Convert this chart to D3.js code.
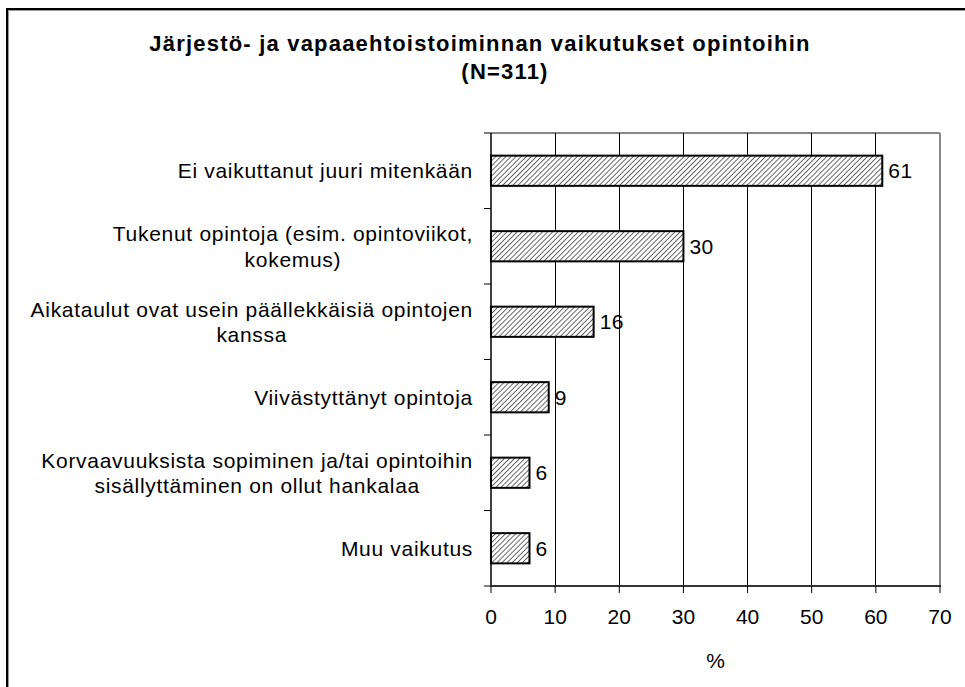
<!DOCTYPE html>
<html>
<head>
<meta charset="utf-8">
<title>vaikutukset</title>
<style>
  body { margin: 0; background: #fff; }
  text { font-family: "Liberation Sans", Arial, sans-serif; fill: #000; }
</style>
</head>
<body>
<script src="https://cdn.jsdelivr.net/npm/d3@7"></script>
<svg width="965" height="687" id="mainsvg"></svg>
<script>
// data
const categories = [
    "Ei vaikuttanut juuri mitenkään",
    "Tukenut opintoja (esim. opintoviikot,\nkokemus)",
    "Aikataulut ovat usein päällekkäisiä opintojen\nkanssa",
    "Viivästyttänyt opintoja",
    "Korvaavuuksista sopiminen ja/tai opintoihin\nsisällyttäminen on ollut hankalaa",
    "Muu vaikutus"
];
const values = [61, 30, 16, 9, 6, 6];
const xTicks = [0, 10, 20, 30, 40, 50, 60, 70];
const titleLines = ["Järjestö- ja vapaaehtoistoiminnan vaikutukset opintoihin", "(N=311)"];
const axisTitle = "%";

const svg = d3.select('#mainsvg');
const pLeft = 491, pRight = 940, pTop = 133, pBottom = 586;
const fs = 21;

// outer frame (runs off the right/bottom edge like the original)
svg.append("rect").attr("x", 7).attr("y", 9).attr("width", 1000).attr("height", 1000)
    .attr("fill", "none").attr("stroke", "#000").attr("stroke-width", 2);
svg.append("rect").attr("x", 8.5).attr("y", 10.5).attr("width", 1000).attr("height", 1000)
    .attr("fill", "none").attr("stroke", "#999").attr("stroke-width", 1);

// hatch
const defs = svg.append("defs");
const pat = defs.append("pattern").attr("id", "hatch")
    .attr("patternUnits", "userSpaceOnUse").attr("width", 3.6).attr("height", 3.6)
    .attr("patternTransform", "rotate(45)");
pat.append("rect").attr("width", 3.6).attr("height", 3.6).attr("fill", "#fff");
pat.append("line").attr("x1", 0).attr("y1", 0).attr("x2", 0).attr("y2", 3.6)
    .attr("stroke", "#444").attr("stroke-width", 1.6);

const x = d3.scaleLinear().domain([0, 70]).range([pLeft, pRight]);
const y = d3.scaleBand().domain(categories).range([pTop, pBottom]).paddingInner(0.6).paddingOuter(0.3);
const band = (pBottom - pTop) / categories.length;

// plot-area border (top & right grey)
svg.append("line").attr("x1", pLeft).attr("x2", pRight).attr("y1", pTop).attr("y2", pTop)
    .attr("stroke", "#888").attr("stroke-width", 2);
svg.append("line").attr("x1", pRight).attr("x2", pRight).attr("y1", pTop).attr("y2", pBottom)
    .attr("stroke", "#888").attr("stroke-width", 2);

// gridlines
svg.append("g").selectAll("line").data(xTicks.filter(t => t > 0 && t < 70)).join("line")
    .attr("x1", d => x(d)).attr("x2", d => x(d)).attr("y1", pTop).attr("y2", pBottom)
    .attr("stroke", "#000").attr("stroke-width", 1).attr("shape-rendering", "crispEdges");

// bars
svg.append("g").selectAll("rect").data(values).join("rect")
    .attr("x", x(0)).attr("y", (d, i) => y(categories[i]))
    .attr("width", d => x(d) - x(0)).attr("height", y.bandwidth())
    .attr("fill", "url(#hatch)").attr("stroke", "#000").attr("stroke-width", 2);

// value labels
svg.append("g").selectAll("text").data(values).join("text")
    .attr("x", d => x(d) + 6).attr("y", (d, i) => y(categories[i]) + y.bandwidth() / 2)
    .attr("dy", "0.36em").attr("font-size", fs).attr("letter-spacing", 0.5).text(d => d);

// y axis
svg.append("line").attr("x1", pLeft).attr("x2", pLeft).attr("y1", pTop).attr("y2", pBottom)
    .attr("stroke", "#000").attr("stroke-width", 1.5);
svg.append("g").selectAll("line").data(d3.range(categories.length + 1)).join("line")
    .attr("x1", pLeft - 7).attr("x2", pLeft).attr("y1", d => pTop + d * band).attr("y2", d => pTop + d * band)
    .attr("stroke", "#000").attr("stroke-width", 1);

// x axis
svg.append("line").attr("x1", pLeft - 1).attr("x2", pRight + 1).attr("y1", pBottom).attr("y2", pBottom)
    .attr("stroke", "#333").attr("stroke-width", 2);
svg.append("g").selectAll("line").data(xTicks).join("line")
    .attr("x1", d => x(d)).attr("x2", d => x(d)).attr("y1", pBottom).attr("y2", pBottom + 7)
    .attr("stroke", "#000").attr("stroke-width", 1);
svg.append("g").selectAll("text").data(xTicks).join("text")
    .attr("x", d => x(d)).attr("y", 624).attr("text-anchor", "middle")
    .attr("font-size", fs).text(d => d);
svg.append("text").attr("x", (pLeft + pRight) / 2).attr("y", 668).attr("text-anchor", "middle")
    .attr("font-size", fs).text(axisTitle);

// category labels: block right-aligned, lines centred in the block
const lh = 25.6;
categories.forEach((c, i) => {
    const lines = c.split("\n");
    const g = svg.append("g");
    const ts = lines.map(l => g.append("text").attr("font-size", fs).attr("letter-spacing", 0.7)
        .attr("text-anchor", "middle").text(l));
    const w = d3.max(ts, t => t.node().getComputedTextLength());
    const cy = y(c) + y.bandwidth() / 2;
    ts.forEach((t, k) => t.attr("x", 473 - w / 2)
        .attr("y", cy + (k - (lines.length - 1) / 2) * lh).attr("dy", "0.36em"));
});

// title
svg.append("text").attr("x", 480).attr("y", 51).attr("text-anchor", "middle")
    .attr("font-size", 22).attr("font-weight", "bold").attr("letter-spacing", 1.2).text(titleLines[0]);
svg.append("text").attr("x", 505).attr("y", 79).attr("text-anchor", "middle")
    .attr("font-size", 22).attr("font-weight", "bold").attr("letter-spacing", 1.2).text(titleLines[1]);
</script>
</body>
</html>
